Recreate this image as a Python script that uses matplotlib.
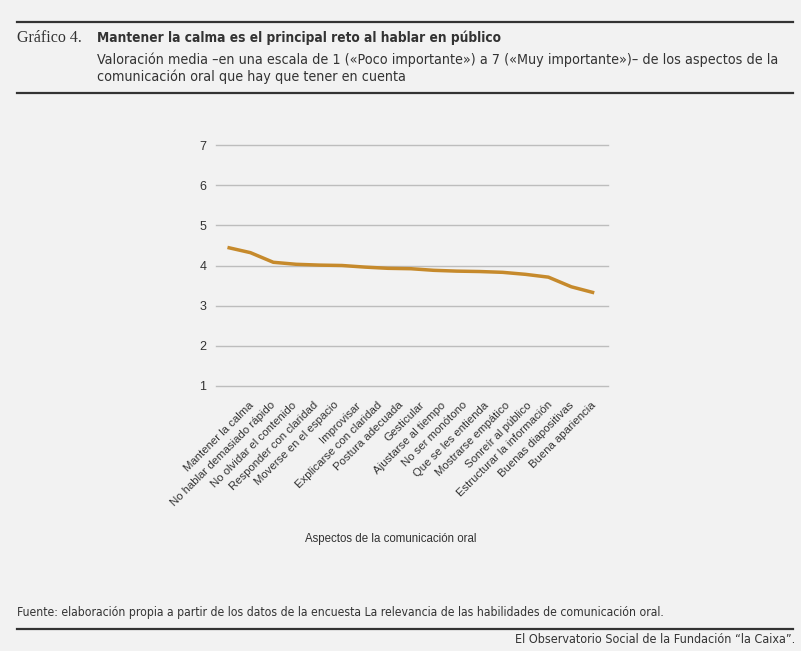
import matplotlib
matplotlib.use("Agg")
import matplotlib.pyplot as plt
from matplotlib.lines import Line2D
from matplotlib.transforms import ScaledTranslation

categories = [
    "Mantener la calma", "No hablar demasiado rápido", "No olvidar el contenido",
    "Responder con claridad", "Moverse en el espacio", "Improvisar",
    "Explicarse con claridad", "Postura adecuada", "Gesticular",
    "Ajustarse al tiempo", "No ser monótono", "Que se les entienda",
    "Mostrarse empático", "Sonreír al público", "Estructurar la información",
    "Buenas diapositivas", "Buena apariencia",
]
values = [4.45, 4.32, 4.08, 4.03, 4.01, 4.00, 3.96, 3.93, 3.92, 3.88, 3.86,
          3.85, 3.83, 3.78, 3.71, 3.47, 3.32]
yticks = [1, 2, 3, 4, 5, 6, 7]

BG = "#f2f2f2"
TXT = "#333333"
W, H = 801, 651

fig = plt.figure(figsize=(W / 100, H / 100), dpi=100, facecolor=BG)

def fx(px):
    return px / W

def fy(py):
    return 1 - py / H

cond = dict(family="DejaVu Sans", stretch="condensed")

# rules
for y in (21.5, 92.5, 629):
    fig.add_artist(Line2D([fx(17), fx(793)], [fy(y), fy(y)], color=TXT, lw=1.6))

fig.text(fx(17), fy(42), "Gráfico 4.", family="Liberation Serif", fontsize=11.5,
         color=TXT, va="baseline", ha="left")
fig.text(fx(97), fy(42), "Mantener la calma es el principal reto al hablar en público",
         fontsize=9.8, weight="bold", color=TXT, va="baseline", ha="left", **cond)
fig.text(fx(97), fy(64),
         "Valoración media –en una escala de 1 («Poco importante») a 7 («Muy importante»)– de los aspectos de la",
         fontsize=10.3, color=TXT, va="baseline", ha="left", **cond)
fig.text(fx(97), fy(81), "comunicación oral que hay que tener en cuenta",
         fontsize=10.3, color=TXT, va="baseline", ha="left", **cond)
fig.text(fx(17), fy(616),
         "Fuente: elaboración propia a partir de los datos de la encuesta La relevancia de las habilidades de comunicación oral.",
         fontsize=8.7, color=TXT, va="baseline", ha="left", **cond)
fig.text(fx(795), fy(643), "El Observatorio Social de la Fundación “la Caixa”.",
         fontsize=9.0, color=TXT, va="baseline", ha="right", **cond)

ax = fig.add_axes([fx(216), fy(386), fx(608) - fx(216), (386 - 145) / H])
ax.set_facecolor(BG)
x = list(range(len(values)))
ax.plot(x, values, color="#c68a2c", lw=2.5, solid_capstyle="butt", zorder=3)
ax.set_xlim(-0.5, 16.6)
ax.set_ylim(1, 7)
ax.set_yticks(yticks)
ax.set_yticklabels([str(v) for v in yticks], family="Liberation Sans", fontsize=9, color=TXT)
for v in yticks:
    ax.axhline(v, color="#bdbdbd", lw=1, zorder=1, clip_on=False)
for s in ax.spines.values():
    s.set_visible(False)
ax.tick_params(axis="y", length=0, pad=7)
ax.tick_params(axis="x", length=0, pad=10)
ax.set_xticks(x)
ax.set_xticklabels(categories, rotation=45, ha="right", va="top", rotation_mode="anchor",
                   family="Liberation Sans", fontsize=8.2, color=TXT)
n = len(categories)
for i, lab in enumerate(ax.get_xticklabels()):
    dx = (21 - 25 * i / (n - 1)) / 100
    lab.set_transform(lab.get_transform() + ScaledTranslation(dx, 0, fig.dpi_scale_trans))

fig.text(fx(391), fy(542), "Aspectos de la comunicación oral", family="Liberation Sans",
         fontsize=8.3, color=TXT, ha="center", va="baseline")

fig.savefig("out.png", dpi=100, facecolor=BG)
